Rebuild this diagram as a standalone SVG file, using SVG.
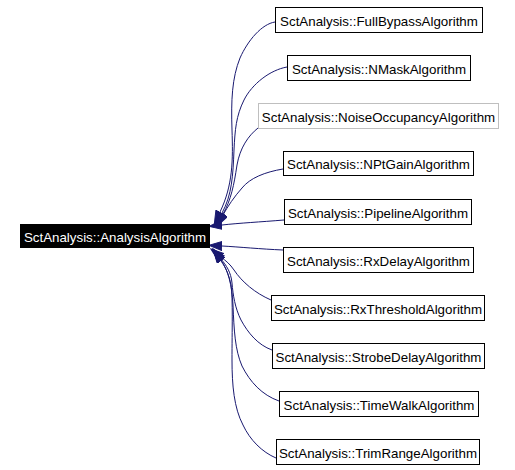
<svg xmlns="http://www.w3.org/2000/svg" width="515" height="470" viewBox="0 0 515 470">
<style>
.box{fill:#fff;stroke:#000;stroke-width:1}
.gray{stroke:#bfbfbf}
.lbl{font-family:"Liberation Sans",Arial,sans-serif;font-size:13.33px;text-anchor:middle;fill:#000}
.edge{fill:none;stroke:#191970;stroke-width:1;marker-end:url(#arr)}
</style>
<defs>
<marker id="arr" markerUnits="userSpaceOnUse" markerWidth="15" markerHeight="11" refX="0" refY="5" orient="auto">
<path d="M0,0.5 L13,5 L0,9.5 z" fill="#191970" stroke="#191970" stroke-width="1"/>
</marker>
</defs>
<rect width="515" height="470" fill="#fff"/>
<g id="connectors">
<path class="edge" d="M275,22 C262,24 248,40 240,58 C232,78 231,100 232,130 C233,160 233,185 220,212"/>
<path class="edge" d="M287,67 C270,70 252,84 244,100 C236,116 235,130 234,150 C233,175 232,195 222,213"/>
<path class="edge" d="M258,128 C248,136 240,148 237,165 C234,185 231,200 223,214"/>
<path class="edge" d="M283,169 C265,172 250,178 242,188 C234,197 228,206 223,215"/>
<path class="edge" d="M284,220 C260,222 240,223 222,225"/>
<path class="edge" d="M283,250 C260,249 240,247 222,246"/>
<path class="edge" d="M271,300 C255,293 242,282 234,270 C230,264 226,261 221,257"/>
<path class="edge" d="M272,350 C258,345 248,333 241,320 C235,308 233,295 232,283 C231,272 226,265 221,259"/>
<path class="edge" d="M279,401 C262,395 250,382 242,366 C235,350 234,330 233,305 C232,285 228,270 221,260"/>
<path class="edge" d="M276,458 C262,452 250,440 243,425 C234,408 232,385 232,360 C232,330 233,300 231,285 C229,275 226,268 221,261"/>
</g>
<g id="AnalysisAlgorithm">
<rect x="20" y="224" width="190" height="24" fill="#000"/>
<text class="lbl" x="115" y="241.5" style="fill:#fff">SctAnalysis::AnalysisAlgorithm</text>
</g>
<g id="FullBypassAlgorithm">
<rect class="box" x="275.5" y="7.5" width="207" height="25"/>
<text class="lbl" x="379" y="25.5">SctAnalysis::FullBypassAlgorithm</text>
</g>
<g id="NMaskAlgorithm">
<rect class="box" x="287.5" y="55.5" width="183" height="25"/>
<text class="lbl" x="379" y="73.5">SctAnalysis::NMaskAlgorithm</text>
</g>
<g id="NoiseOccupancyAlgorithm">
<rect class="box gray" x="258.5" y="103.5" width="240" height="25"/>
<text class="lbl" x="378.5" y="121.5">SctAnalysis::NoiseOccupancyAlgorithm</text>
</g>
<g id="NPtGainAlgorithm">
<rect class="box" x="283.5" y="151.5" width="190" height="24"/>
<text class="lbl" x="378.5" y="169">SctAnalysis::NPtGainAlgorithm</text>
</g>
<g id="PipelineAlgorithm">
<rect class="box" x="284.5" y="199.5" width="187" height="25"/>
<text class="lbl" x="378" y="217.5">SctAnalysis::PipelineAlgorithm</text>
</g>
<g id="RxDelayAlgorithm">
<rect class="box" x="283.5" y="247.5" width="190" height="25"/>
<text class="lbl" x="378.5" y="265.5">SctAnalysis::RxDelayAlgorithm</text>
</g>
<g id="RxThresholdAlgorithm">
<rect class="box" x="271.5" y="295.5" width="213" height="25"/>
<text class="lbl" x="378" y="313.5">SctAnalysis::RxThresholdAlgorithm</text>
</g>
<g id="StrobeDelayAlgorithm">
<rect class="box" x="272.5" y="343.5" width="212" height="25"/>
<text class="lbl" x="378.5" y="361.5">SctAnalysis::StrobeDelayAlgorithm</text>
</g>
<g id="TimeWalkAlgorithm">
<rect class="box" x="279.5" y="391.5" width="199" height="25"/>
<text class="lbl" x="379" y="409.5">SctAnalysis::TimeWalkAlgorithm</text>
</g>
<g id="TrimRangeAlgorithm">
<rect class="box" x="276.5" y="439.5" width="203" height="25"/>
<text class="lbl" x="378" y="457.5">SctAnalysis::TrimRangeAlgorithm</text>
</g>
</svg>
